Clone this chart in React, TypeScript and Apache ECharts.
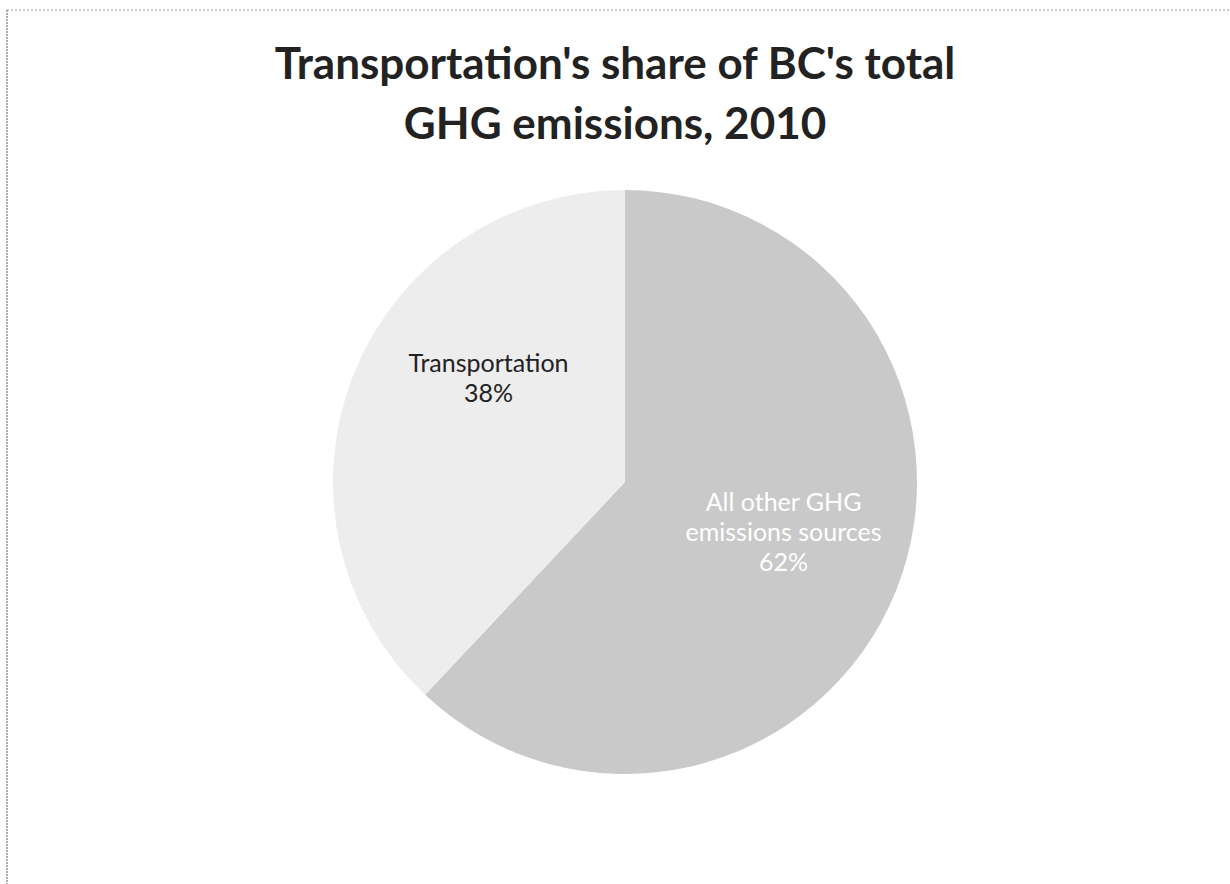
import React, { useEffect, useRef } from "react";
import * as echarts from "echarts";

const titleLines = ["Transportation's share of BC's total", "GHG emissions, 2010"];
const categories = ["All other GHG\nemissions sources", "Transportation"];
const shares = [62, 38];
const sliceColors = ["#c9c9c9", "#ededed"];
const labelColors = ["#ffffff", "#222222"];

export default function App() {
  const ref = useRef<HTMLDivElement>(null);
  useEffect(() => {
    if (!ref.current) return;
    const chart = echarts.init(ref.current, null, { renderer: "svg" });
    chart.setOption({
      animation: false,
      backgroundColor: "#ffffff",
      title: {
        text: titleLines.join("\n"),
        left: "center",
        top: 27,
        textStyle: {
          fontFamily: "Lato",
          fontWeight: "bold",
          fontSize: 44,
          lineHeight: 60,
          color: "#222222",
        },
      },
      graphic: [
        {
          type: "line",
          shape: { x1: 7, y1: 10, x2: 1230, y2: 10 },
          style: { stroke: "#9a9a9a", lineWidth: 1.2, lineDash: [2, 2] },
        },
        {
          type: "line",
          shape: { x1: 7, y1: 10, x2: 7, y2: 884 },
          style: { stroke: "#777777", lineWidth: 1.2, lineDash: [2, 1] },
        },
      ],
      series: [
        {
          type: "pie",
          center: [625, 482],
          radius: 292,
          startAngle: 90,
          clockwise: true,
          silent: true,
          itemStyle: { borderWidth: 0 },
          label: {
            position: "inside",
            fontFamily: "Lato",
            fontSize: 25,
            lineHeight: 30,
            formatter: (p: any) => `${p.name}\n${p.value}%`,
          },
          labelLine: { show: false },
          data: categories.map((c, i) => ({
            name: c,
            value: shares[i],
            itemStyle: { color: sliceColors[i] },
            label: { color: labelColors[i], offset: i === 0 ? [20, -6] : [2, -50] },
          })),
        },
      ],
    });
    return () => chart.dispose();
  }, []);
  return (
    <div
      ref={ref}
      style={{ position: "fixed", left: 0, top: 0, width: 1230, height: 884 }}
    />
  );
}
